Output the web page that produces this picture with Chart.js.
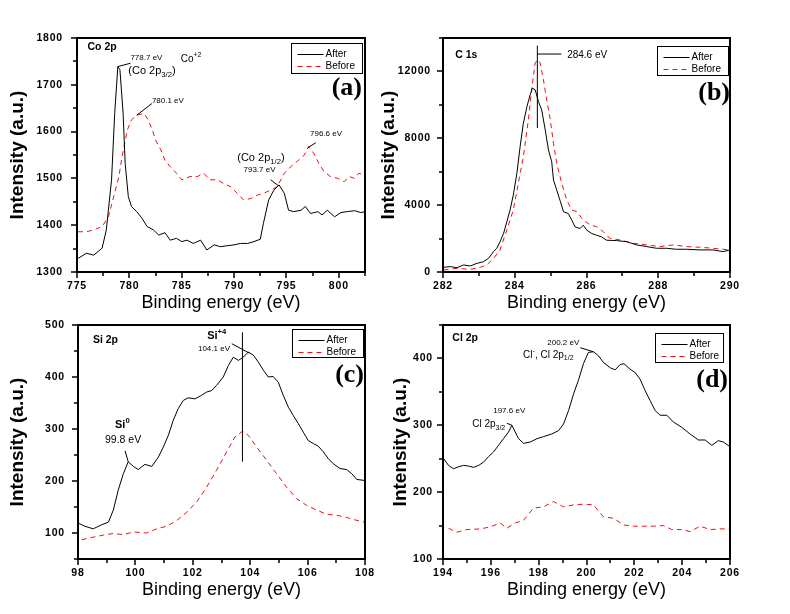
<!DOCTYPE html>
<html>
<head>
<meta charset="utf-8">
<script src="https://cdn.jsdelivr.net/npm/chart.js@4/dist/chart.umd.min.js"></script>
<style>
  body { margin: 0; background: #fff; width: 790px; height: 614px; position: relative; overflow: hidden; }
  canvas { position: absolute; }
</style>
</head>
<body>
<canvas id="chartCo" width="395" height="320" style="left:0;top:0"></canvas>
<canvas id="chartC" width="424" height="320" style="left:366px;top:0"></canvas>
<canvas id="chartSi" width="395" height="320" style="left:0;top:287px"></canvas>
<canvas id="chartCl" width="424" height="320" style="left:366px;top:287px"></canvas>
<script>
// ---- (a) Co 2p ----
const coEnergyAfter = [775.1, 775.9, 776.6, 777.4, 777.8, 778.3, 778.6, 778.9, 779.1, 779.4, 779.6, 779.9, 780.2, 780.7, 781.2, 781.7, 782.3, 782.8, 783.4, 783.9, 784.5, 785.0, 785.5, 786.1, 786.8, 787.4, 788.1, 788.7, 789.3, 790.0, 790.6, 791.3, 791.9, 792.5, 792.8, 793.3, 793.8, 794.3, 794.8, 795.2, 795.7, 796.4, 796.8, 797.3, 798.0, 798.4, 798.9, 799.6, 800.2, 800.8, 801.5, 802.1, 802.5];
const coAfter = [1329, 1340, 1336, 1351, 1390, 1497, 1639, 1739, 1732, 1640, 1532, 1461, 1440, 1429, 1415, 1397, 1390, 1379, 1384, 1368, 1372, 1365, 1368, 1361, 1368, 1347, 1358, 1354, 1356, 1358, 1361, 1361, 1365, 1370, 1404, 1454, 1475, 1486, 1468, 1432, 1429, 1432, 1440, 1425, 1429, 1422, 1432, 1418, 1427, 1429, 1431, 1427, 1429];
const coEnergyBefore = [775.1, 775.9, 776.6, 777.4, 778.0, 778.5, 779.0, 779.3, 779.8, 780.2, 780.7, 781.4, 781.8, 782.2, 782.5, 783.0, 783.4, 783.9, 784.5, 785.0, 785.8, 786.5, 787.1, 787.7, 788.4, 789.0, 789.7, 790.3, 790.9, 791.6, 792.2, 792.8, 793.5, 794.1, 794.8, 795.4, 796.0, 796.7, 797.1, 797.6, 798.1, 798.6, 799.2, 799.9, 800.5, 801.0, 801.5, 801.9, 802.5];
const coBefore = [1386, 1386, 1390, 1397, 1418, 1461, 1504, 1546, 1603, 1625, 1635, 1639, 1625, 1603, 1582, 1561, 1539, 1525, 1511, 1497, 1504, 1504, 1511, 1497, 1497, 1489, 1482, 1468, 1454, 1457, 1464, 1468, 1475, 1482, 1511, 1525, 1536, 1550, 1568, 1554, 1532, 1514, 1504, 1500, 1493, 1504, 1500, 1511, 1507];
const coXLabels = [775, 780, 785, 790, 795, 800];
const coYLabels = [1300, 1400, 1500, 1600, 1700, 1800];

// ---- (b) C 1s ----
const cEnergyAfter = [282.02, 282.2, 282.39, 282.57, 282.76, 282.95, 283.13, 283.27, 283.41, 283.5, 283.59, 283.69, 283.78, 283.87, 283.96, 284.06, 284.15, 284.24, 284.34, 284.43, 284.49, 284.57, 284.66, 284.75, 284.85, 284.94, 285.03, 285.08, 285.17, 285.26, 285.36, 285.49, 285.59, 285.68, 285.82, 285.91, 286.01, 286.15, 286.28, 286.42, 286.56, 286.84, 287.12, 287.4, 287.68, 287.95, 288.23, 288.51, 288.79, 289.16, 289.53, 289.81, 290.0];
const cAfter = [280, 320, 260, 420, 360, 520, 620, 820, 1220, 1420, 1810, 2320, 3010, 3710, 4610, 5910, 7510, 8900, 9900, 10600, 11000, 10900, 10200, 9700, 8500, 7300, 6600, 5500, 4900, 4300, 3600, 3500, 3100, 2700, 2600, 2800, 2500, 2300, 2200, 2100, 1900, 1880, 1810, 1620, 1520, 1420, 1420, 1360, 1360, 1320, 1320, 1220, 1320];
const cEnergyBefore = [282.02, 282.39, 282.76, 283.04, 283.22, 283.41, 283.59, 283.78, 283.96, 284.1, 284.24, 284.38, 284.48, 284.57, 284.64, 284.71, 284.8, 284.89, 284.99, 285.08, 285.17, 285.31, 285.45, 285.59, 285.73, 285.91, 286.1, 286.28, 286.47, 286.65, 286.93, 287.3, 287.68, 288.05, 288.42, 288.79, 289.16, 289.53, 290.0];
const cBefore = [120, 220, 160, 280, 420, 820, 1320, 2520, 3710, 5310, 6900, 9100, 11100, 12500, 12700, 12500, 11500, 10300, 9100, 7700, 6500, 5300, 4300, 3710, 3610, 3110, 2820, 2710, 2410, 2020, 1920, 1720, 1620, 1520, 1620, 1520, 1480, 1420, 1320];
const cXLabels = [282, 284, 286, 288, 290];
const cYLabels = [0, 4000, 8000, 12000];

// ---- (c) Si 2p ----
const siEnergyAfter = [98.01, 98.24, 98.53, 98.83, 99.06, 99.23, 99.4, 99.58, 99.75, 99.93, 100.1, 100.33, 100.57, 100.8, 100.97, 101.15, 101.32, 101.49, 101.67, 101.84, 102.08, 102.31, 102.48, 102.66, 102.83, 103.06, 103.24, 103.41, 103.59, 103.76, 103.93, 104.11, 104.28, 104.46, 104.63, 104.8, 104.98, 105.15, 105.33, 105.5, 105.68, 105.85, 106.02, 106.2, 106.37, 106.55, 106.72, 106.9, 107.13, 107.36, 107.54, 107.71, 108.0];
const siAfter = [119, 113, 108, 116, 121, 144, 182, 214, 237, 228, 222, 232, 228, 246, 265, 288, 317, 339, 355, 360, 358, 365, 371, 374, 384, 400, 422, 438, 432, 438, 448, 442, 429, 413, 400, 401, 390, 365, 342, 326, 310, 294, 278, 272, 267, 256, 243, 233, 224, 222, 214, 203, 201];
const siEnergyBefore = [98.13, 98.53, 98.88, 99.23, 99.58, 99.93, 100.39, 100.74, 101.09, 101.44, 101.79, 102.14, 102.48, 102.83, 103.18, 103.47, 103.74, 103.93, 104.23, 104.57, 104.92, 105.27, 105.62, 105.97, 106.32, 106.67, 107.01, 107.36, 107.59, 107.97];
const siBefore = [87, 92, 96, 99, 97, 102, 100, 108, 113, 124, 140, 160, 188, 221, 256, 285, 296, 288, 265, 240, 214, 188, 166, 153, 144, 136, 134, 130, 126, 121];
const siXLabels = [98, 100, 102, 104, 106, 108];
const siYLabels = [100, 200, 300, 400, 500];

// ---- (d) Cl 2p ----
const clEnergyAfter = [194.03, 194.23, 194.44, 194.65, 194.86, 195.07, 195.28, 195.49, 195.7, 195.9, 196.11, 196.32, 196.53, 196.74, 196.88, 197.02, 197.16, 197.37, 197.65, 197.93, 198.2, 198.55, 198.83, 199.04, 199.25, 199.46, 199.66, 199.87, 200.08, 200.29, 200.5, 200.71, 200.99, 201.2, 201.41, 201.57, 201.82, 202.03, 202.24, 202.45, 202.66, 202.87, 203.08, 203.36, 203.63, 203.98, 204.33, 204.68, 204.96, 205.24, 205.51, 205.72, 206.0];
const clAfter = [250, 240, 235, 238, 240, 239, 237, 240, 245, 253, 260, 270, 280, 290, 300, 290, 280, 273, 275, 280, 283, 287, 292, 302, 322, 347, 367, 392, 409, 410, 404, 394, 386, 383, 391, 392, 384, 379, 369, 352, 337, 322, 315, 315, 305, 297, 287, 278, 278, 270, 277, 275, 268];
const clEnergyBefore = [194.23, 194.58, 195.0, 195.56, 195.98, 196.39, 196.67, 197.02, 197.37, 197.78, 198.2, 198.62, 199.04, 199.46, 199.87, 200.29, 200.71, 201.13, 201.54, 201.96, 202.38, 202.8, 203.21, 203.57, 203.98, 204.33, 204.75, 205.17, 205.58, 206.0];
const clBefore = [146, 140, 144, 145, 148, 154, 146, 154, 158, 176, 178, 186, 178, 181, 182, 181, 163, 161, 151, 149, 149, 149, 150, 144, 144, 141, 149, 144, 145, 145];
const clXLabels = [194, 196, 198, 200, 202, 204, 206];
const clYLabels = [100, 200, 300, 400];

// annotations (data coordinates)
const coNotes = [
  { x: 776.0, y: 1781, parts: [['Co 2p', 'n']], size: 10.5, bold: true },
  { x: 780.1, y: 1757, parts: [['778.7 eV', 'n']], size: 8 },
  { x: 784.9, y: 1755, parts: [['Co', 'n'], ['+2', 'sup']], size: 10 },
  { x: 779.9, y: 1729, parts: [['(Co 2p', 'n'], ['3/2', 'sub'], [')', 'n']], size: 11 },
  { x: 782.15, y: 1665, parts: [['780.1 eV', 'n']], size: 8 },
  { x: 790.3, y: 1544, parts: [['(Co 2p', 'n'], ['1/2', 'sub'], [')', 'n']], size: 11 },
  { x: 790.9, y: 1518, parts: [['793.7 eV', 'n']], size: 8 },
  { x: 797.25, y: 1595, parts: [['796.6 eV', 'n']], size: 8 }
];
const coLeaders = [[778.9, 1739, 780.1, 1746], [780.7, 1635, 782.15, 1660], [793.5, 1497, 794.2, 1485], [797.05, 1566, 797.8, 1576]];

const cNotes = [
  { x: 282.34, y: 13000, parts: [['C 1s', 'n']], size: 10.5, bold: true },
  { x: 285.46, y: 12940, parts: [['284.6 eV', 'n']], size: 10 }
];
const cLeaders = [[284.63, 13540, 284.63, 8610], [284.63, 13040, 285.3, 13040]];

const siNotes = [
  { x: 98.52, y: 470.6, parts: [['Si 2p', 'n']], size: 10.5, bold: true },
  { x: 102.5, y: 478, parts: [['Si', 'n'], ['+4', 'sup']], size: 11, bold: true },
  { x: 102.18, y: 455, parts: [['104.1 eV', 'n']], size: 8 },
  { x: 99.29, y: 307, parts: [['Si', 'n'], ['0', 'sup']], size: 11, bold: true },
  { x: 98.94, y: 278, parts: [['99.8 eV', 'n']], size: 10.5 }
];
const siLeaders = [[103.73, 486, 103.73, 237], [103.36, 464, 103.97, 446], [99.64, 258, 99.75, 237]];

const clNotes = [
  { x: 194.39, y: 431, parts: [['Cl 2p', 'n']], size: 10.5, bold: true },
  { x: 198.36, y: 423, parts: [['200.2 eV', 'n']], size: 8 },
  { x: 197.35, y: 405.5, parts: [['Cl', 'n'], ['-', 'sup'], [', Cl 2p', 'n'], ['1/2', 'sub']], size: 10 },
  { x: 196.1, y: 322, parts: [['197.6 eV', 'n']], size: 8 },
  { x: 195.22, y: 301, parts: [['Cl 2p', 'n'], ['3/2', 'sub']], size: 10 }
];
const clLeaders = [[199.74, 416, 200.29, 410], [196.67, 303, 196.88, 300]];

const FONT = '"Liberation Sans", Arial, sans-serif';
Chart.defaults.font.family = FONT;
Chart.defaults.color = '#000';

function pts(xs, ys) {
  return xs.map((x, i) => ({ x: x, y: ys[i] }));
}

function drawRich(ctx, x, y, parts, size, bold) {
  let cx = x;
  for (const [t, k] of parts) {
    const s = k === 'n' ? size : size * 0.7;
    ctx.font = (bold ? 'bold ' : '') + s + 'px ' + FONT;
    const dy = k === 'sup' ? -size * 0.4 : k === 'sub' ? size * 0.35 : 0;
    ctx.fillText(t, cx, y + dy);
    cx += ctx.measureText(t).width;
  }
}

// frame, ticks, tick labels, legend box, panel tag and notes
function decor(p) {
  return {
    id: 'decor',
    afterDraw(chart) {
      const ctx = chart.ctx, a = chart.chartArea;
      const sx = chart.scales.x, sy = chart.scales.y;
      ctx.save();
      ctx.strokeStyle = '#000';
      ctx.fillStyle = '#000';
      ctx.lineWidth = 1.5;
      ctx.beginPath();
      sx.ticks.forEach(t => {
        const px = Math.round(sx.getPixelForValue(t.value));
        ctx.moveTo(px, a.bottom);
        ctx.lineTo(px, a.bottom + (t.label !== '' ? 6 : 4));
      });
      sy.ticks.forEach(t => {
        const py = Math.round(sy.getPixelForValue(t.value));
        ctx.moveTo(a.left, py);
        ctx.lineTo(a.left - (t.label !== '' ? 6 : 4), py);
      });
      ctx.stroke();
      ctx.lineWidth = 2;
      ctx.strokeRect(a.left, a.top, a.right - a.left, a.bottom - a.top);

      // tick labels
      ctx.font = 'bold 10.5px ' + FONT;
      if ('letterSpacing' in ctx) ctx.letterSpacing = '0.8px';
      ctx.textBaseline = 'middle';
      ctx.textAlign = 'center';
      sx.ticks.forEach(t => {
        if (t.label !== '') ctx.fillText(t.label, sx.getPixelForValue(t.value), a.bottom + 14);
      });
      ctx.textAlign = 'right';
      sy.ticks.forEach(t => {
        if (t.label !== '') ctx.fillText(t.label, a.left - p.yLabelGap, sy.getPixelForValue(t.value));
      });
      if ('letterSpacing' in ctx) ctx.letterSpacing = '0px';

      // legend
      const lg = p.legend;
      const bx = Math.round(a.right - lg.inset - lg.w) + 0.5, by = Math.round(a.top + lg.top) + 0.5;
      ctx.lineWidth = 1;
      ctx.strokeRect(bx, by, lg.w, lg.h);
      ctx.textAlign = 'left';
      chart.data.datasets.forEach((ds, i) => {
        const y = by + (i === 0 ? 11 : 23);
        ctx.strokeStyle = ds.borderColor;
        ctx.setLineDash(ds.borderDash || []);
        ctx.beginPath();
        ctx.moveTo(bx + 6, y);
        ctx.lineTo(bx + 32, y);
        ctx.stroke();
        ctx.setLineDash([]);
        ctx.font = '10px ' + FONT;
        ctx.fillText(ds.label, bx + 34, y);
      });

      // panel tag
      ctx.font = 'bold 26px "Liberation Serif", "Times New Roman", serif';
      ctx.textAlign = 'right';
      ctx.fillText(p.tag, a.right - p.tagInset, a.top + p.tagTop);

      // leader lines
      ctx.strokeStyle = '#000';
      ctx.lineWidth = 1;
      ctx.beginPath();
      p.leaders.forEach(l => {
        ctx.moveTo(sx.getPixelForValue(l[0]), sy.getPixelForValue(l[1]));
        ctx.lineTo(sx.getPixelForValue(l[2]), sy.getPixelForValue(l[3]));
      });
      ctx.stroke();

      // text notes
      ctx.textAlign = 'left';
      p.notes.forEach(n => {
        drawRich(ctx, sx.getPixelForValue(n.x), sy.getPixelForValue(n.y), n.parts, n.size, n.bold);
      });
      ctx.restore();
    }
  };
}

function makeChart(p) {
  new Chart(document.getElementById(p.id), {
    type: 'scatter',
    data: {
      datasets: [
        { label: 'After', data: pts(p.eAfter, p.after), showLine: true, borderColor: '#000000', borderWidth: 1, pointRadius: 0, tension: 0 },
        { label: 'Before', data: pts(p.eBefore, p.before), showLine: true, borderColor: '#ee1111', borderWidth: 1, borderDash: [5, 4], pointRadius: 0, tension: 0 }
      ]
    },
    options: {
      responsive: false,
      animation: false,
      events: [],
      layout: { padding: { top: 38, right: p.padRight, left: 0, bottom: 0 } },
      plugins: { legend: { display: false }, tooltip: { enabled: false } },
      scales: {
        x: {
          type: 'linear', min: p.x[0], max: p.x[1],
          afterFit: s => { s.height = 48; },
          grid: { display: false, drawTicks: false },
          border: { display: false },
          ticks: {
            display: false, stepSize: p.x[2], maxTicksLimit: 100, autoSkip: false,
            callback: v => p.xLabels.includes(v) ? String(v) : ''
          },
          title: { display: true, text: 'Binding energy (eV)', color: '#000', font: { family: FONT, size: 18 }, padding: { top: 0, bottom: 6 } }
        },
        y: {
          type: 'linear', min: p.y[0], max: p.y[1],
          afterFit: s => { s.width = p.yWidth; },
          grid: { display: false, drawTicks: false },
          border: { display: false },
          ticks: {
            display: false, stepSize: p.y[2], maxTicksLimit: 100, autoSkip: false,
            callback: v => p.yLabels.includes(v) ? String(v) : ''
          },
          title: { display: true, text: 'Intensity (a.u.)', color: '#000', font: { family: FONT, size: 19, weight: 'bold' }, padding: { top: p.yTitlePad, bottom: 0 } }
        }
      }
    },
    plugins: [decor(p)]
  });
}

makeChart({ id: 'chartCo', eAfter: coEnergyAfter, after: coAfter, eBefore: coEnergyBefore, before: coBefore,
  x: [775, 802.5, 2.5], xLabels: coXLabels, y: [1300, 1800, 50], yLabels: coYLabels,
  yWidth: 77, padRight: 30, yTitlePad: 6, yLabelGap: 14, tag: '(a)', tagInset: 3, tagTop: 50,
  legend: { inset: 3, top: 5, w: 71, h: 30 }, notes: coNotes, leaders: coLeaders });

makeChart({ id: 'chartC', eAfter: cEnergyAfter, after: cAfter, eBefore: cEnergyBefore, before: cBefore,
  x: [282, 290, 1], xLabels: cXLabels, y: [0, 14000, 2000], yLabels: cYLabels,
  yWidth: 77, padRight: 60, yTitlePad: 11, yLabelGap: 12, tag: '(b)', tagInset: 0, tagTop: 55,
  legend: { inset: 2, top: 8, w: 71, h: 29 }, notes: cNotes, leaders: cLeaders });

makeChart({ id: 'chartSi', eAfter: siEnergyAfter, after: siAfter, eBefore: siEnergyBefore, before: siBefore,
  x: [98, 108, 1], xLabels: siXLabels, y: [50, 500, 50], yLabels: siYLabels,
  yWidth: 78, padRight: 30, yTitlePad: 6, yLabelGap: 13, tag: '(c)', tagInset: 1, tagTop: 50,
  legend: { inset: 2, top: 4, w: 71, h: 28 }, notes: siNotes, leaders: siLeaders });

makeChart({ id: 'chartCl', eAfter: clEnergyAfter, after: clAfter, eBefore: clEnergyBefore, before: clBefore,
  x: [194, 206, 1], xLabels: clXLabels, y: [100, 450, 50], yLabels: clYLabels,
  yWidth: 77, padRight: 60, yTitlePad: 23, yLabelGap: 10, tag: '(d)', tagInset: 2, tagTop: 55,
  legend: { inset: 7, top: 8, w: 68, h: 29 }, notes: clNotes, leaders: clLeaders });
</script>
</body>
</html>
